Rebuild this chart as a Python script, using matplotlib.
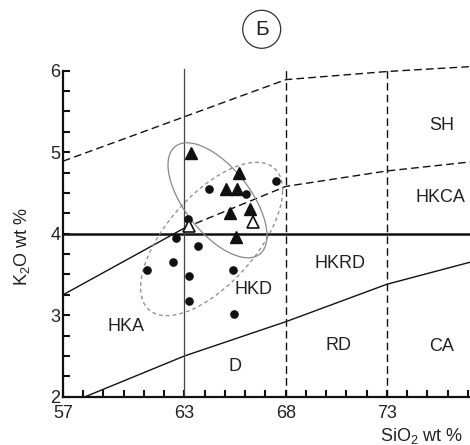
import numpy as np
import matplotlib
matplotlib.use("Agg")
import matplotlib.pyplot as plt
from matplotlib.patches import Ellipse
from matplotlib.ticker import MultipleLocator, FixedLocator

plt.rcParams['font.family'] = ['Liberation Sans', 'DejaVu Sans']
plt.rcParams['mathtext.fontset'] = 'custom'
plt.rcParams['mathtext.rm'] = 'Liberation Sans'
plt.rcParams['mathtext.it'] = 'Liberation Sans'

# ---- data ----
# filled triangles
tri_x = [63.31, 65.69, 65.03, 65.60, 65.25, 66.23, 65.53]
tri_y = [4.99, 4.75, 4.55, 4.55, 4.25, 4.30, 3.96]
# open triangles
otri_x = [63.24, 66.37]
otri_y = [4.10, 4.14]
# circles
dot_x = [64.22, 67.52, 66.04, 63.19, 62.58, 63.68, 61.16, 62.45, 63.21, 65.38, 63.22, 65.44]
dot_y = [4.55, 4.65, 4.49, 4.18, 3.95, 3.85, 3.55, 3.65, 3.48, 3.55, 3.17, 3.01]

# classification boundaries
upper_dash_x = [57, 68, 73, 77.1]
upper_dash_y = [4.89, 5.89, 5.99, 6.05]
mid_dash_x = [63, 68, 73, 77.1]
mid_dash_y = [4.07, 4.58, 4.77, 4.88]
hka_line_x = [57, 63]
hka_line_y = [3.25, 4.07]
low_line_x = [58.1, 63, 68, 73, 77.1]
low_line_y = [2.0, 2.50, 2.92, 3.38, 3.65]
hline_y = 4.0
solid_vx = 63
dash_vx = [68, 73]

labels = ['SH', 'HKCA', 'HKRD', 'HKD', 'HKA', 'D', 'RD', 'CA']
label_x = [75.7, 75.65, 70.7, 66.4, 60.1, 65.5, 70.6, 75.7]
label_y = [5.33, 4.45, 3.64, 3.31, 2.86, 2.37, 2.63, 2.61]

# ellipses: center and covariance-like matrices (data units)
ell_solid_c = (64.63, 4.41)
ell_solid_m = [[5.975, -1.063], [-1.063, 0.4977]]
ell_dash_c = (64.34, 3.935)
ell_dash_m = [[12.29, 2.091], [2.091, 0.8857]]

xticks = [57, 63, 68, 73]
yticks = [2, 3, 4, 5, 6]

# ---- figure ----
W, H = 470, 445
fig = plt.figure(figsize=(W / 100, H / 100), dpi=100)
ax = fig.add_axes([63 / W, 48.3 / H, 407 / W, 326 / H])
ax.set_xlim(57, 77.1)
ax.set_ylim(2, 6)

for s in ['top', 'right']:
    ax.spines[s].set_visible(False)
for s in ['left', 'bottom']:
    ax.spines[s].set_linewidth(1.6)
    ax.spines[s].set_color('#111111')

ax.xaxis.set_major_locator(FixedLocator(xticks))
ax.xaxis.set_minor_locator(MultipleLocator(1))
ax.yaxis.set_major_locator(FixedLocator(yticks))
ax.yaxis.set_minor_locator(MultipleLocator(0.25))
ax.tick_params(which='both', direction='in', length=5, width=1.5, color='#111111',
               labelsize=13, labelcolor='#222222')
ax.tick_params(axis='x', which='both', pad=6)
ax.tick_params(axis='y', which='both', pad=2)

dash = (0, (5.5, 3.0))
ax.plot(upper_dash_x, upper_dash_y, color='#111111', lw=1.0, linestyle=dash, clip_on=False)
ax.plot(mid_dash_x, mid_dash_y, color='#111111', lw=1.0, linestyle=dash)
ax.plot(hka_line_x, hka_line_y, color='#111111', lw=1.0)
ax.plot(low_line_x, low_line_y, color='#111111', lw=1.0)
ax.axhline(hline_y, color='#111111', lw=1.8)
ax.plot([solid_vx, solid_vx], [2, 6.02], color='#444444', lw=0.9, clip_on=False)
for vx in dash_vx:
    ax.plot([vx, vx], [2, 6.02], color='#111111', lw=1.0, linestyle=dash, clip_on=False)

t = np.linspace(0, 2 * np.pi, 300)
for c, m, ls in [(ell_solid_c, ell_solid_m, '-'), (ell_dash_c, ell_dash_m, (0, (3, 2.5)))]:
    L = np.linalg.cholesky(np.array(m))
    pts = L @ np.vstack([np.cos(t), np.sin(t)])
    ax.plot(c[0] + pts[0], c[1] + pts[1], color='#888888', lw=0.9, linestyle=ls)

ax.plot(dot_x, dot_y, 'o', color='#111111', ms=5.2, zorder=5)
ax.plot(tri_x, tri_y, '^', color='#111111', ms=9, zorder=6)
ax.plot(otri_x, otri_y, '^', markerfacecolor='white', markeredgecolor='#111111',
        mew=1.2, ms=9, zorder=6)

for lab, lx, ly in zip(labels, label_x, label_y):
    ax.text(lx, ly, lab, ha='center', va='center', fontsize=13, color='#222222')

fig.text(421.7 / W, 1 - 436 / H, r'SiO$_2$ wt %', ha='center', va='center',
         fontsize=13, color='#222222')
fig.text(22 / W, 1 - 246 / H, r'K$_2$O wt %', ha='center', va='center',
         rotation=90, fontsize=13, color='#222222')

# panel marker
fig.patches.append(Ellipse((261.7 / W, 1 - 29.3 / H), 38 / W, 38 / H,
                           transform=fig.transFigure, fill=False,
                           edgecolor='#333333', lw=0.9))
fig.text(261.7 / W, 1 - 29.3 / H, 'Б', ha='center', va='center',
         fontsize=15, color='#222222')

fig.savefig('out.png', dpi=100)
